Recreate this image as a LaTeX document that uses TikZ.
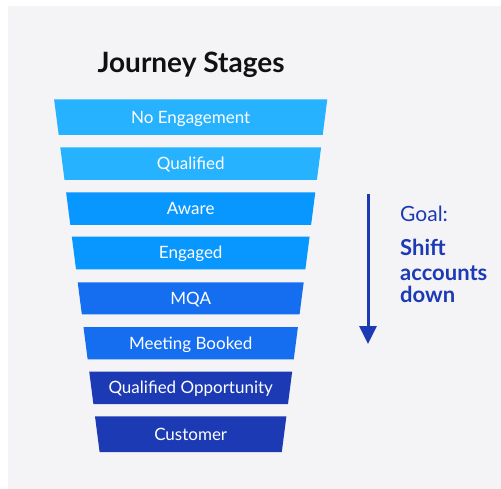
\documentclass[tikz,border=0pt]{standalone}
\usepackage{fontspec}
\setmainfont{Lato}
\usetikzlibrary{arrows.meta}
\definecolor{bgcol}{RGB}{244,244,247}
\definecolor{cA}{RGB}{38,178,255}
\definecolor{cB}{RGB}{8,150,255}
\definecolor{cC}{RGB}{21,110,240}
\definecolor{cD}{RGB}{29,58,181}
\definecolor{titlecol}{RGB}{17,17,17}
\tikzset{
  stagetext/.style={text=white, inner sep=0pt, anchor=base, font=\fontsize{17}{20}\selectfont},
  titletext/.style={text=titlecol, inner sep=0pt, font=\bfseries\fontsize{28}{32}\selectfont},
  goaltext/.style={text=cD, inner sep=0pt, anchor=base west, font=\fontsize{21}{24}\selectfont},
  goalbold/.style={goaltext, font=\bfseries\fontsize{22}{24}\selectfont},
  goalarrow/.style={draw=cD, line width=3pt, -{Triangle[width=17pt,length=18pt]}}
}
\newcommand\stage[5]{%
  \pgfmathsetmacro\sTop{136.6-0.129*(#2-99.3)}%
  \pgfmathsetmacro\sBot{136.6-0.129*(#3-99.3)}%
  \fill[#4] (190.7-\sTop,#2) -- (190.7+\sTop,#2) -- (190.7+\sBot,#3) -- (190.7-\sBot,#3) -- cycle;
  \node[stagetext] (#1) at (190.7,{(#2+#3)/2+6}) {#5};
}
\begin{document}
\begin{tikzpicture}[x=1pt,y=-1pt]
\useasboundingbox (0,0) rectangle (501,489);
\fill[bgcol] (8,6) rectangle (501,489);
\node[titletext, anchor=base] (title) at (191,73) {Journey Stages};
\stage{s1}{99.3}{135}{cA}{No Engagement}
\stage{s2}{147.3}{180}{cA}{Qualified}
\stage{s3}{192.3}{225}{cB}{Aware}
\stage{s4}{236.7}{269.3}{cB}{Engaged}
\stage{s5}{282.3}{314.3}{cC}{MQA}
\stage{s6}{327}{359.3}{cC}{Meeting Booked}
\stage{s7}{371.7}{404}{cD}{Qualified Opportunity}
\stage{s8}{416.3}{452}{cD}{Customer}
\coordinate (astart) at (368,194);
\coordinate (aend) at (368,344);
\draw[goalarrow] (astart) -- (aend);
\node[goaltext] (goal) at (400,222) {Goal:};
\node[goalbold] (shift) at (400,256) {Shift};
\node[goalbold] (accounts) at (400,280) {accounts};
\node[goalbold] (down) at (400,303) {down};
\end{tikzpicture}
\end{document}
